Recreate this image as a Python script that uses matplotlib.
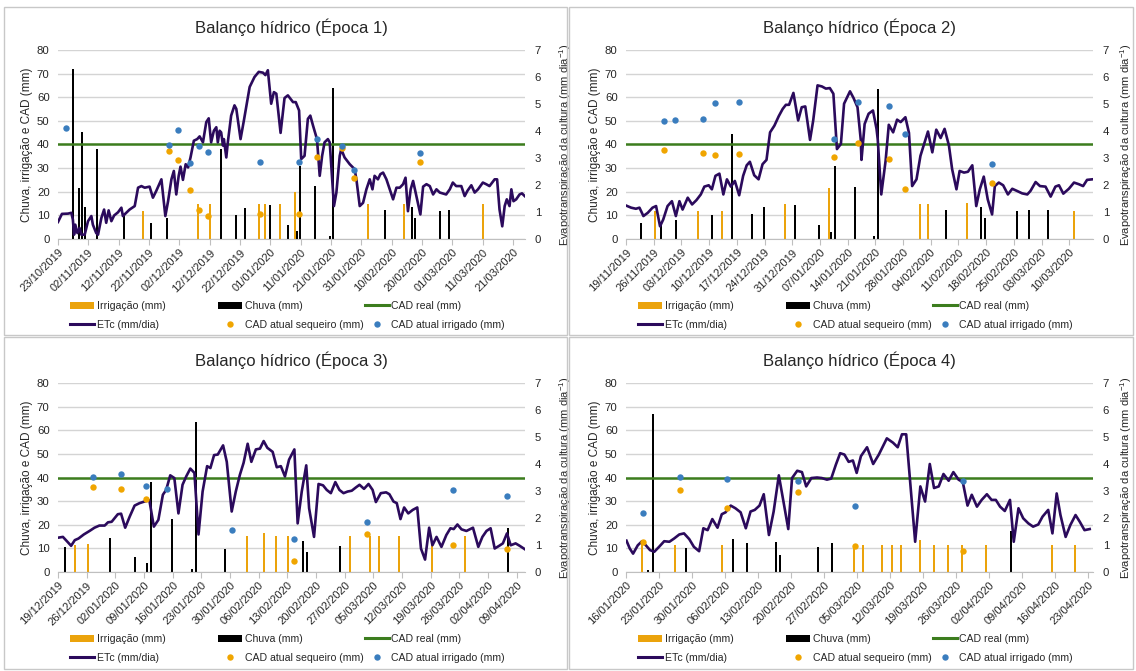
import numpy as np
import matplotlib
matplotlib.use('Agg')
import matplotlib.pyplot as plt
from matplotlib.lines import Line2D
from matplotlib.patches import Patch, Rectangle
from matplotlib.legend import Legend

plt.rcParams['font.family'] = ['Liberation Sans', 'DejaVu Sans']
plt.rcParams['mathtext.fontset'] = 'custom'
plt.rcParams['mathtext.rm'] = 'Liberation Sans'
plt.rcParams['mathtext.it'] = 'Liberation Sans:italic'

COR_IRRIG = '#EBA30C'
COR_CHUVA = '#000000'
COR_CAD = '#3C7D1E'
COR_ETC = '#2B0A5C'
COR_SEQ = '#F0A500'
COR_IRR = '#3A7DBE'
COR_GRADE = '#D4D4D4'
COR_TEXTO = '#262626'

cad_real = 40

# ---------------- Época 1 ----------------
ep1_ticks = ['23/10/2019', '02/11/2019', '12/11/2019', '22/11/2019', '02/12/2019', '12/12/2019',
             '22/12/2019', '01/01/2020', '11/01/2020', '21/01/2020', '31/01/2020', '10/02/2020',
             '20/02/2020', '01/03/2020', '11/03/2020', '21/03/2020']
ep1_passo = 10
ep1_ndias = 154
ep1_chuva_dia = [4, 6, 7, 8, 12, 21, 30, 35, 53, 58, 61, 69, 75, 78, 79, 84, 89, 90, 107, 116, 117, 125, 128]
ep1_chuva_mm = [72, 21.4, 45.2, 13.6, 38.1, 10, 6.8, 9, 38, 10.2, 13.2, 14.2, 6.1, 3.3, 31, 22.4, 1.1, 63.9,
                12.2, 13.6, 8.7, 11.8, 12.2]
ep1_irrig_dia = [28, 46, 50, 66, 68, 73, 78, 102, 114, 140]
ep1_irrig_mm = [12, 15, 15, 15, 15, 15, 20, 15, 15, 15]
ep1_seq_dia = [36, 39, 43, 46, 49, 66, 79, 85, 93, 97, 119]
ep1_seq_mm = [37.1, 33.4, 20.6, 12.1, 9.7, 10.4, 10.4, 34.5, 38.4, 26.0, 32.4]
ep1_irr_dia = [2, 36, 39, 43, 46, 49, 66, 79, 85, 93, 97, 119]
ep1_irr_mm = [46.9, 39.8, 46.3, 32.1, 39.2, 36.9, 32.4, 32.4, 42.2, 39.5, 29.3, 36.2]
ep1_etc = [
    (0.0, 0.63), (1.3, 0.93), (3.3, 0.94), (4.4, 0.97), (4.9, 0.72), (5.3, 0.16), (5.7, 0.53), (6.4, 0.22),
    (7.1, 0.41), (7.7, 0.16), (8.8, 0.16), (9.9, 0.66), (11.0, 0.85), (11.5, 0.53), (12.6, 0.22), (13.2, 0.16),
    (14.3, 0.78), (15.2, 1.09), (15.9, 0.60), (16.7, 1.06), (17.6, 0.66), (18.5, 0.87), (19.8, 0.99),
    (20.9, 1.16), (21.4, 0.85), (22.5, 0.97), (23.6, 1.09), (25.3, 1.22), (26.4, 1.90), (27.5, 1.96),
    (28.6, 1.90), (30.2, 1.94), (31.3, 1.53), (32.4, 1.78), (34.1, 2.21), (35.4, 0.85), (36.3, 1.40),
    (37.4, 2.21), (38.2, 2.52), (39.0, 1.65), (39.8, 2.34), (40.4, 2.68), (41.2, 2.19), (42.1, 2.77),
    (42.9, 2.65), (43.7, 3.02), (44.8, 3.64), (45.9, 3.70), (46.7, 3.80), (47.8, 3.58), (48.9, 4.33),
    (49.7, 4.47), (50.5, 3.58), (51.4, 4.01), (52.2, 4.14), (52.7, 3.58), (53.3, 4.01), (53.8, 3.95),
    (54.4, 3.46), (54.7, 3.70), (55.5, 3.02), (56.0, 3.58), (57.1, 4.57), (58.2, 4.95), (58.8, 4.82),
    (60.2, 3.70), (61.3, 4.39), (63.2, 5.63), (64.8, 6.00), (66.2, 6.19), (67.6, 6.16), (68.4, 6.07),
    (69.2, 6.25), (70.3, 5.01), (71.2, 5.44), (72.0, 5.38), (73.4, 3.93), (74.7, 5.22), (75.8, 5.32),
    (77.5, 5.07), (78.4, 5.07), (79.5, 4.76), (80.2, 2.96), (81.3, 3.08), (82.4, 4.45), (83.2, 4.57),
    (84.1, 4.20), (85.4, 3.70), (86.3, 2.34), (87.1, 3.08), (87.9, 3.58), (89.0, 3.70), (89.6, 3.58),
    (90.5, 2.09), (91.0, 1.22), (91.8, 1.72), (92.9, 3.08), (93.4, 3.33), (94.5, 3.02), (96.2, 2.77),
    (97.8, 2.59), (98.4, 2.21), (99.5, 1.22), (100.6, 1.34), (101.7, 1.84), (102.8, 2.21), (103.7, 1.84),
    (104.4, 2.34), (105.5, 2.21), (106.3, 2.40), (107.2, 2.46), (108.3, 2.21), (109.4, 1.84), (110.5, 1.47),
    (111.6, 1.90), (112.7, 1.90), (113.8, 2.03), (114.6, 2.27), (115.4, 1.03), (116.3, 1.84), (117.1, 2.15),
    (118.2, 1.59), (119.5, 0.91), (120.4, 1.94), (121.5, 2.03), (122.6, 1.96), (123.7, 1.65), (124.8, 1.84),
    (125.9, 1.72), (128.0, 1.65), (129.2, 1.84), (130.2, 2.09), (131.3, 1.96), (133.0, 1.96), (134.1, 1.59),
    (135.0, 1.78), (136.3, 1.99), (137.4, 1.72), (138.5, 1.84), (140.1, 2.09), (141.2, 2.03), (142.3, 1.96),
    (144.0, 2.21), (144.8, 2.21), (145.6, 1.09), (146.5, 0.47), (147.3, 1.22), (148.0, 1.47), (148.9, 1.22),
    (149.5, 1.84), (150.2, 1.40), (151.1, 1.47), (152.2, 1.65), (153.0, 1.69), (153.9, 1.59)]

# ---------------- Época 2 ----------------
ep2_ticks = ['19/11/2019', '26/11/2019', '03/12/2019', '10/12/2019', '17/12/2019', '24/12/2019',
             '31/12/2019', '07/01/2020', '14/01/2020', '21/01/2020', '28/01/2020', '04/02/2020',
             '11/02/2020', '18/02/2020', '25/02/2020', '03/03/2020', '10/03/2020']
ep2_passo = 7
ep2_ndias = 118
ep2_chuva_dia = [3, 8, 12, 21, 26, 31, 34, 42, 48, 51, 52, 57, 62, 63, 80, 89, 90, 98, 101, 106]
ep2_chuva_mm = [6.8, 7, 8.2, 10.2, 44.5, 10.7, 13.5, 14.3, 6.1, 3.1, 30.7, 22.2, 1.1, 63.4, 12.2, 13.6, 8.7,
                11.8, 12.2, 12.2]
ep2_irrig_dia = [7, 18, 24, 40, 51, 74, 76, 86, 113]
ep2_irrig_mm = [12, 12, 12, 15, 21.4, 15, 15, 15.3, 12]
ep2_seq_dia = [9, 19, 22, 28, 52, 58, 66, 70, 92]
ep2_seq_mm = [37.5, 36.4, 35.5, 35.8, 34.9, 40.5, 33.8, 21.3, 23.9]
ep2_irr_dia = [9, 12, 19, 22, 28, 52, 58, 66, 70, 92]
ep2_irr_mm = [49.9, 50.3, 50.6, 57.5, 58.2, 42.3, 58.2, 56.1, 44.6, 31.8]
ep2_etc = [
    (0.0, 1.24), (1.3, 1.16), (2.5, 1.12), (3.4, 1.16), (4.4, 0.85), (5.5, 0.97), (6.7, 1.16), (7.6, 1.22),
    (8.6, 0.47), (9.4, 0.72), (10.5, 1.22), (11.6, 1.40), (12.6, 0.85), (13.5, 1.40), (14.3, 1.09),
    (15.6, 1.53), (16.7, 1.28), (17.8, 1.44), (18.9, 1.65), (19.8, 1.94), (20.9, 1.99), (21.7, 1.84),
    (22.6, 2.34), (23.6, 2.42), (24.6, 1.65), (25.5, 2.21), (26.5, 1.94), (27.5, 2.15), (28.6, 1.62),
    (29.6, 2.34), (30.5, 2.73), (31.3, 2.86), (32.4, 2.36), (33.5, 2.21), (34.5, 2.77), (35.5, 2.93),
    (36.4, 3.95), (37.5, 4.20), (38.6, 4.55), (39.6, 4.82), (40.4, 4.97), (41.2, 4.97), (42.3, 5.41),
    (43.5, 4.39), (44.4, 4.88), (45.3, 4.91), (46.5, 3.67), (47.3, 4.39), (48.4, 5.69), (49.5, 5.65),
    (50.5, 5.57), (51.5, 5.59), (52.4, 5.38), (53.3, 3.33), (54.3, 3.52), (55.1, 5.01), (56.6, 5.47),
    (57.5, 5.22), (58.5, 4.88), (59.3, 3.70), (59.5, 2.93), (60.3, 4.26), (61.3, 4.64), (62.4, 4.76),
    (63.3, 4.08), (63.6, 3.70), (64.5, 1.65), (65.6, 2.90), (66.4, 4.23), (67.5, 3.95), (68.5, 4.42),
    (69.4, 4.33), (70.6, 4.51), (71.5, 3.93), (72.3, 1.96), (73.4, 2.21), (74.4, 3.08), (75.2, 3.46),
    (76.3, 3.98), (77.4, 3.21), (78.4, 4.05), (79.5, 3.74), (80.5, 4.08), (81.6, 3.46), (82.4, 2.59),
    (83.5, 1.84), (84.3, 2.52), (85.4, 2.46), (86.4, 2.49), (87.5, 2.73), (88.5, 1.22), (89.4, 1.84),
    (90.4, 2.31), (91.4, 1.47), (92.5, 0.91), (93.2, 1.96), (94.2, 2.09), (95.3, 1.99), (96.5, 1.65),
    (97.6, 1.86), (98.8, 1.78), (100.1, 1.69), (101.4, 1.65), (102.2, 1.78), (103.5, 2.11), (104.6, 1.96),
    (106.0, 1.94), (107.3, 1.57), (108.5, 1.94), (109.4, 1.99), (110.5, 1.68), (111.9, 1.86), (113.2, 2.09),
    (114.4, 2.03), (115.5, 1.96), (116.5, 2.19), (117.8, 2.21)]

# ---------------- Época 3 ----------------
ep3_ticks = ['19/12/2019', '26/12/2019', '02/01/2020', '09/01/2020', '16/01/2020', '23/01/2020',
             '30/01/2020', '06/02/2020', '13/02/2020', '20/02/2020', '27/02/2020', '05/03/2020',
             '12/03/2020', '19/03/2020', '26/03/2020', '02/04/2020', '09/04/2020']
ep3_passo = 7
ep3_ndias = 114
ep3_chuva_dia = [1, 12, 18, 21, 22, 27, 32, 33, 40, 59, 60, 68, 109]
ep3_chuva_mm = [10.7, 14.6, 6.4, 3.6, 38.1, 22.4, 1.4, 63.6, 9.9, 13.2, 8.5, 11.2, 18.8]
ep3_irrig_dia = [4, 7, 46, 50, 53, 56, 71, 76, 78, 83, 91, 99]
ep3_irrig_mm = [11.6, 11.8, 15.1, 16.6, 15.1, 15.1, 15.1, 15.1, 15.1, 15.1, 12.5, 15.1]
ep3_seq_dia = [8, 15, 21, 57, 75, 96, 109]
ep3_seq_mm = [35.8, 35.2, 30.8, 4.7, 15.9, 11.6, 9.8]
ep3_irr_dia = [8, 15, 21, 26, 42, 57, 75, 96, 109]
ep3_irr_mm = [40.1, 41.5, 36.5, 35.1, 17.8, 13.8, 21.3, 34.8, 32.0]
ep3_etc = [
    (0.0, 1.27), (1.2, 1.30), (2.3, 1.12), (3.2, 0.97), (4.1, 1.18), (5.0, 1.24), (6.3, 1.39), (7.7, 1.52),
    (8.9, 1.64), (10.1, 1.72), (11.4, 1.72), (12.2, 1.84), (13.1, 1.86), (14.6, 2.14), (15.4, 2.16),
    (16.4, 1.64), (17.5, 2.05), (18.7, 2.46), (19.9, 2.55), (21.1, 2.61), (22.3, 2.66), (23.4, 1.68),
    (24.5, 1.93), (25.6, 2.86), (26.4, 3.04), (27.4, 3.58), (28.4, 3.48), (29.4, 2.17), (30.4, 3.23),
    (31.3, 3.54), (32.3, 3.83), (33.3, 3.67), (34.3, 1.39), (35.3, 2.98), (36.4, 3.92), (37.2, 3.85),
    (38.1, 4.33), (39.0, 4.35), (40.3, 4.69), (41.2, 4.08), (42.4, 2.24), (43.4, 2.98), (44.4, 3.60),
    (45.3, 4.04), (46.3, 4.75), (47.2, 4.08), (48.3, 4.54), (49.3, 4.57), (50.2, 4.85), (51.1, 4.60),
    (52.4, 4.45), (53.4, 3.88), (54.4, 3.92), (55.4, 3.54), (56.4, 4.16), (57.7, 4.54), (58.5, 1.80),
    (59.5, 2.98), (60.6, 3.95), (61.3, 2.36), (62.5, 1.30), (63.6, 3.26), (64.7, 3.21), (65.6, 3.04),
    (66.6, 2.92), (67.7, 3.33), (68.7, 3.04), (69.7, 2.92), (70.7, 2.98), (71.7, 3.01), (72.7, 3.13),
    (73.6, 3.23), (74.7, 3.08), (75.8, 3.26), (76.8, 3.04), (77.6, 2.59), (78.8, 2.92), (80.1, 2.95),
    (80.9, 2.88), (81.9, 2.61), (82.7, 2.55), (83.6, 1.96), (84.5, 2.39), (85.5, 2.17), (86.6, 2.30),
    (87.7, 2.39), (88.6, 0.87), (89.6, 0.46), (90.6, 1.64), (91.4, 0.99), (92.4, 1.30), (93.6, 0.93),
    (94.8, 1.37), (95.8, 1.62), (96.6, 1.59), (97.5, 1.76), (98.5, 1.58), (99.7, 1.52), (101.3, 1.64),
    (102.6, 0.93), (103.6, 1.30), (104.6, 1.52), (105.6, 1.62), (106.6, 0.87), (107.7, 0.97), (108.6, 1.06),
    (109.6, 1.43), (110.5, 0.99), (111.7, 1.06), (112.7, 0.97), (113.9, 0.85)]

# ---------------- Época 4 ----------------
ep4_ticks = ['16/01/2020', '23/01/2020', '30/01/2020', '06/02/2020', '13/02/2020', '20/02/2020',
             '27/02/2020', '05/03/2020', '12/03/2020', '19/03/2020', '26/03/2020', '02/04/2020',
             '09/04/2020', '16/04/2020', '23/04/2020']
ep4_passo = 7
ep4_ndias = 99
ep4_chuva_dia = [4, 5, 12, 22, 25, 31, 32, 40, 43, 81]
ep4_chuva_mm = [1.0, 67.0, 10.2, 13.8, 12.1, 12.5, 7.4, 10.4, 12.1, 17.3]
ep4_irrig_dia = [3, 10, 20, 48, 50, 54, 56, 58, 62, 65, 68, 71, 76, 90, 95]
ep4_irrig_mm = [12.8, 11.6, 11.6, 11.6, 11.6, 11.6, 11.6, 11.6, 13.5, 11.6, 11.6, 11.6, 11.6, 11.6, 11.6]
ep4_seq_dia = [3, 11, 21, 36, 48, 71]
ep4_seq_mm = [12.8, 34.8, 27.3, 33.7, 11.1, 8.9]
ep4_irr_dia = [3, 11, 21, 36, 48, 71]
ep4_irr_mm = [24.9, 40.1, 39.3, 38.4, 27.8, 38.4]
ep4_etc = [
    (0.1, 1.16), (0.8, 0.87), (1.5, 0.68), (2.5, 0.99), (3.4, 1.14), (4.2, 0.99), (5.1, 0.81), (6.0, 0.75),
    (7.0, 0.93), (8.1, 1.14), (9.2, 1.12), (10.2, 1.24), (11.3, 1.39), (12.3, 1.43), (13.4, 1.22),
    (14.4, 0.93), (15.5, 0.77), (16.4, 1.62), (17.3, 1.55), (18.3, 1.96), (19.4, 1.64), (20.3, 2.14),
    (21.1, 2.21), (22.2, 2.46), (23.2, 2.36), (24.3, 2.21), (25.4, 1.62), (26.4, 2.24), (27.3, 2.30),
    (28.3, 2.46), (29.2, 2.88), (30.3, 1.37), (31.3, 2.24), (32.4, 3.58), (33.5, 2.49), (34.4, 1.59),
    (35.2, 3.48), (36.3, 3.75), (37.3, 3.70), (38.2, 3.17), (39.3, 3.48), (40.5, 3.50), (41.5, 3.48),
    (42.6, 3.42), (43.5, 3.46), (44.5, 3.98), (45.4, 4.40), (46.3, 4.35), (47.2, 4.08), (48.1, 4.13),
    (48.9, 3.67), (49.8, 4.29), (51.1, 4.62), (52.4, 4.00), (53.6, 4.35), (55.3, 4.95), (56.6, 4.79),
    (57.6, 4.62), (58.5, 5.10), (59.4, 5.10), (61.3, 1.12), (62.4, 3.17), (63.4, 2.61), (64.4, 4.00),
    (65.3, 3.11), (66.3, 3.17), (67.3, 3.63), (68.4, 3.38), (69.4, 3.70), (70.5, 3.42), (71.4, 3.33),
    (72.4, 2.46), (73.3, 2.86), (74.4, 2.42), (75.4, 2.67), (76.5, 2.88), (77.5, 2.67), (78.4, 2.67),
    (79.3, 2.42), (80.3, 2.26), (81.4, 2.67), (82.2, 1.12), (83.2, 2.36), (84.2, 1.99), (85.3, 1.80),
    (86.3, 1.68), (87.4, 1.76), (88.3, 2.05), (89.5, 2.30), (90.4, 1.43), (91.3, 2.91), (92.1, 2.11),
    (93.2, 1.30), (94.2, 1.74), (95.3, 2.11), (96.2, 1.86), (97.2, 1.55), (98.3, 1.59)]

epocas = [
    ('Balanço hídrico (Época 1)', ep1_ticks, ep1_passo, ep1_ndias, ep1_chuva_dia, ep1_chuva_mm,
     ep1_irrig_dia, ep1_irrig_mm, ep1_seq_dia, ep1_seq_mm, ep1_irr_dia, ep1_irr_mm, ep1_etc),
    ('Balanço hídrico (Época 2)', ep2_ticks, ep2_passo, ep2_ndias, ep2_chuva_dia, ep2_chuva_mm,
     ep2_irrig_dia, ep2_irrig_mm, ep2_seq_dia, ep2_seq_mm, ep2_irr_dia, ep2_irr_mm, ep2_etc),
    ('Balanço hídrico (Época 3)', ep3_ticks, ep3_passo, ep3_ndias, ep3_chuva_dia, ep3_chuva_mm,
     ep3_irrig_dia, ep3_irrig_mm, ep3_seq_dia, ep3_seq_mm, ep3_irr_dia, ep3_irr_mm, ep3_etc),
    ('Balanço hídrico (Época 4)', ep4_ticks, ep4_passo, ep4_ndias, ep4_chuva_dia, ep4_chuva_mm,
     ep4_irrig_dia, ep4_irrig_mm, ep4_seq_dia, ep4_seq_mm, ep4_irr_dia, ep4_irr_mm, ep4_etc),
]

W, H = 1136, 671
fig = plt.figure(figsize=(W / 100, H / 100), dpi=100)

# molduras dos quatro quadros (px)
for (x0, y0, x1, y1) in [(4, 7, 567, 335), (569, 7, 1133, 335), (4, 337, 567, 669), (569, 337, 1133, 669)]:
    fig.add_artist(Rectangle((x0 / W, 1 - y1 / H), (x1 - x0) / W, (y1 - y0) / H,
                             transform=fig.transFigure, fill=False, ec='#C8C8C8', lw=1.0))

# posição das áreas de plotagem (px): esquerda, topo(80), posição do rótulo direito
areas = [(58, 50, 1.069), (626, 50, 1.054), (58, 383, 1.069), (626, 383, 1.054)]
larg, alt = 467, 189


def desenha(ax_pos, ep):
    (titulo, ticks, passo, ndias, chuva_dia, chuva_mm, irrig_dia, irrig_mm,
     seq_dia, seq_mm, irr_dia, irr_mm, etc) = ep
    x0, y0, xrot = ax_pos
    ax = fig.add_axes([x0 / W, 1 - (y0 + alt) / H, larg / W, alt / H])
    ax2 = ax.twinx()

    w = 2.0 * ndias / larg
    ax.bar(np.array(irrig_dia) + 0.5 - w / 2, irrig_mm, width=w, color=COR_IRRIG, zorder=2)
    ax.bar(np.array(chuva_dia) + 0.5 + w / 2, chuva_mm, width=w, color=COR_CHUVA, zorder=2)
    ax.axhline(cad_real, color=COR_CAD, lw=1.8, zorder=3)

    etc_x, etc_y = zip(*etc)
    ax2.plot(etc_x, etc_y, color=COR_ETC, lw=1.9, solid_joinstyle='round', zorder=2)
    # pontos de CAD sobre a linha, na escala do eixo da esquerda
    ax2.plot(np.array(seq_dia) + 0.5, seq_mm, 'o', ms=4.6, color=COR_SEQ, mec='none',
             transform=ax.transData, zorder=3)
    ax2.plot(np.array(irr_dia) + 0.5, irr_mm, 'o', ms=4.6, color=COR_IRR, mec='none',
             transform=ax.transData, zorder=3)

    ax.set_xlim(0, ndias)
    ax.set_ylim(0, 80)
    ax2.set_ylim(0, 7)
    ax.set_yticks(range(0, 81, 10))
    ax2.set_yticks(range(0, 8))
    ax.set_xticks(np.arange(len(ticks)) * passo)
    ax.set_xticklabels(ticks, rotation=45, ha='right', rotation_mode='anchor')

    ax.yaxis.grid(True, color=COR_GRADE, lw=1.0)
    ax.set_axisbelow(True)
    for s in ['top', 'left', 'right']:
        ax.spines[s].set_visible(False)
    ax.spines['bottom'].set_color('#BFBFBF')
    for s in ax2.spines.values():
        s.set_visible(False)

    ax.tick_params(axis='x', direction='out', length=4, color='#BFBFBF', labelsize=8,
                   labelcolor=COR_TEXTO, pad=2)
    ax.tick_params(axis='y', length=0, labelsize=8.2, labelcolor=COR_TEXTO, pad=6)
    ax2.tick_params(axis='y', length=0, labelsize=8.2, labelcolor=COR_TEXTO, pad=7)

    ax.set_ylabel('Chuva, irrigação e CAD (mm)', fontsize=8.5, color=COR_TEXTO)
    ax.yaxis.set_label_coords(-0.054, 0.5)
    ax2.set_ylabel('Evapotranspiração da cultura (mm dia$^{-1}$)', fontsize=8.0, color=COR_TEXTO)
    ax2.yaxis.set_label_coords(xrot, 0.5)

    ax.text(0.5, 1 + 23 / alt, titulo, transform=ax.transAxes, ha='center', va='center',
            fontsize=12, color=COR_TEXTO)

    colunas = [
        [(Patch(facecolor=COR_IRRIG), 'Irrigação (mm)'),
         (Line2D([], [], color=COR_ETC, lw=2.2), 'ETc (mm/dia)')],
        [(Patch(facecolor=COR_CHUVA), 'Chuva (mm)'),
         (Line2D([], [], ls='none', marker='o', ms=4.6, color=COR_SEQ, mec='none'), 'CAD atual sequeiro (mm)')],
        [(Line2D([], [], color=COR_CAD, lw=2.2), 'CAD real (mm)'),
         (Line2D([], [], ls='none', marker='o', ms=4.6, color=COR_IRR, mec='none'), 'CAD atual irrigado (mm)')],
    ]
    for xc, col in zip([0.026, 0.343, 0.657], colunas):
        hs, ls = zip(*col)
        leg = Legend(ax2, hs, ls, loc='upper left', bbox_to_anchor=(xc, -(69 - 7) / alt),
                     frameon=False, fontsize=7.6, borderpad=0, borderaxespad=0,
                     handlelength=2.3, handleheight=0.6, handletextpad=0.2, labelspacing=0.85)
        for t in leg.get_texts():
            t.set_color(COR_TEXTO)
        ax2.add_artist(leg)


for pos, ep in zip(areas, epocas):
    desenha(pos, ep)

fig.savefig('out.png', dpi=100)
